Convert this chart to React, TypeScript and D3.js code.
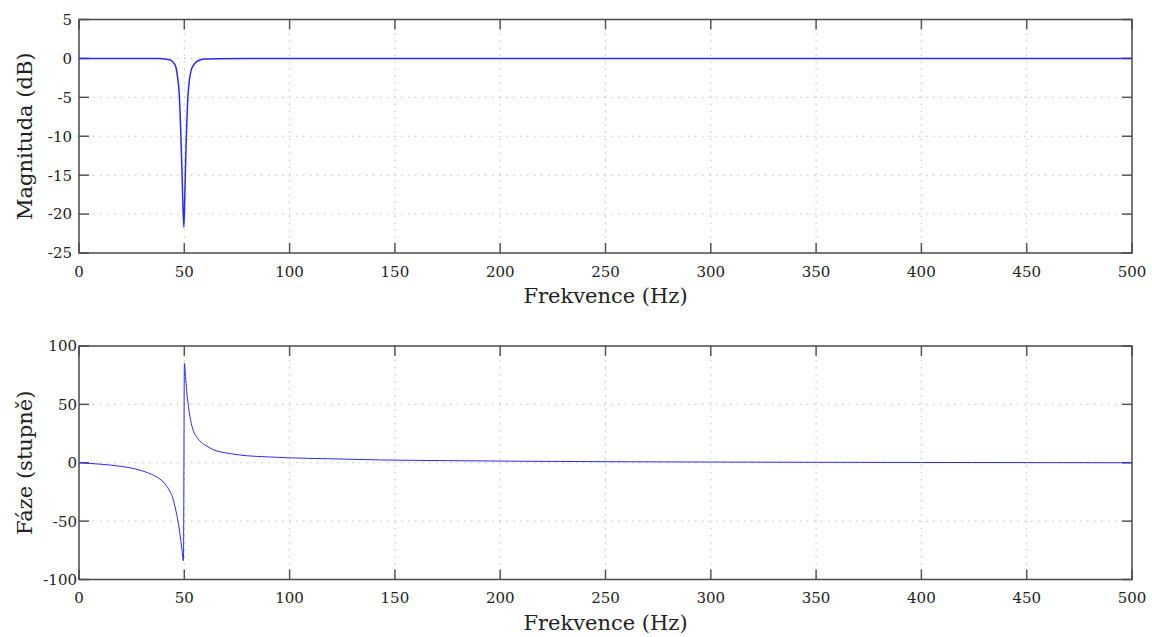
import * as d3 from "d3";
import { useRef, useEffect } from "react";

// frequency axis (Hz)
const freqTicks = [0, 50, 100, 150, 200, 250, 300, 350, 400, 450, 500];

// magnitude response (dB)
const magFreq = [0, 10, 20, 30, 38, 41, 43, 44, 45, 46, 46.8, 47.6, 48.2, 48.9, 49.3, 49.8, 50.3, 50.7, 51.1, 51.7, 52.4, 53.2, 54.3, 55.5, 57.5, 60, 65, 80, 100, 150, 200, 250, 300, 350, 400, 450, 500];
const magDb = [0, 0, 0, 0, -0.02, -0.08, -0.18, -0.3, -0.6, -1.1, -2.4, -4.6, -8.5, -14.5, -18.5, -21.7, -17, -12.5, -9, -5, -2.8, -1.6, -0.9, -0.5, -0.2, -0.08, -0.03, 0, 0, 0, 0, 0, 0, 0, 0, 0, 0];
const magTicks = [5, 0, -5, -10, -15, -20, -25];

// phase response (degrees)
const phaseFreq = [0, 5, 10, 15, 20, 25, 30, 33, 36, 39, 41, 43, 44.5, 46, 47, 48, 48.8, 49.6, 50.05, 50.6, 51.1, 52, 52.7, 54, 55.9, 58, 60.6, 64, 67, 72, 79.6, 90, 98.6, 119, 143, 175, 210, 250, 300, 350, 400, 450, 500];
const phaseDeg = [0, -0.6, -1.2, -2, -3.1, -4.6, -6.9, -8.8, -11.2, -14.8, -18.5, -24, -30, -41, -50, -62, -73, -84, 85, 74, 62, 48, 39.4, 29, 22, 17.5, 14.3, 11, 9.4, 7.8, 6, 5, 4.3, 3.4, 2.4, 1.8, 1.3, 0.9, 0.6, 0.4, 0.25, 0.12, 0];
const phaseTicks = [100, 50, 0, -50, -100];

const FONT = "'DejaVu Serif', serif";

const App = () => {
    const svgRef = useRef<SVGSVGElement>(null);

    useEffect(() => {
        const svg = d3.select(svgRef.current);
        svg.selectAll("*").remove();

        const left = 79, right = 1132;

        const panel = (top: number, bottom: number, xs: number[], ys: number[],
            yDomain: [number, number], yTicks: number[], yLabel: string,
            lineW: number, yLabelGap: number, xLabelGap: number) => {
            const x = d3.scaleLinear().domain([0, 500]).range([left, right]);
            const y = d3.scaleLinear().domain(yDomain).range([bottom, top]);
            const g = svg.append("g");

            // dotted grid
            g.selectAll(".vgrid")
                .data(freqTicks.slice(1, -1))
                .enter()
                .append("line")
                .attr("x1", d => x(d)).attr("x2", d => x(d))
                .attr("y1", top).attr("y2", bottom)
                .attr("stroke", "#bdbdbd")
                .attr("stroke-width", 1)
                .attr("stroke-dasharray", "1.5,5.5");
            g.selectAll(".hgrid")
                .data(yTicks.slice(1, -1))
                .enter()
                .append("line")
                .attr("x1", left).attr("x2", right)
                .attr("y1", d => y(d)).attr("y2", d => y(d))
                .attr("stroke", "#bdbdbd")
                .attr("stroke-width", 1)
                .attr("stroke-dasharray", "1.5,5.5");

            // inward ticks on all four sides
            const tk = 10;
            freqTicks.forEach(t => {
                g.append("line").attr("x1", x(t)).attr("x2", x(t)).attr("y1", bottom).attr("y2", bottom - tk)
                    .attr("stroke", "#555").attr("stroke-width", 1.5);
                g.append("line").attr("x1", x(t)).attr("x2", x(t)).attr("y1", top).attr("y2", top + tk)
                    .attr("stroke", "#555").attr("stroke-width", 1.5);
            });
            yTicks.forEach(t => {
                g.append("line").attr("x1", left).attr("x2", left + tk).attr("y1", y(t)).attr("y2", y(t))
                    .attr("stroke", "#555").attr("stroke-width", 1.5);
                g.append("line").attr("x1", right).attr("x2", right - tk).attr("y1", y(t)).attr("y2", y(t))
                    .attr("stroke", "#555").attr("stroke-width", 1.5);
            });

            // data line
            const line = d3.line<number>()
                .x((d, i) => x(xs[i]))
                .y(d => y(d))
                .curve(d3.curveMonotoneX);
            g.append("path")
                .datum(ys)
                .attr("fill", "none")
                .attr("stroke", "#2a2aff")
                .attr("stroke-width", lineW)
                .attr("d", line);

            // frame
            g.append("rect")
                .attr("x", left).attr("y", top)
                .attr("width", right - left).attr("height", bottom - top)
                .attr("fill", "none")
                .attr("stroke", "#4a4a4a")
                .attr("stroke-width", 1.5);

            // tick labels
            g.selectAll(".xl")
                .data(freqTicks)
                .enter()
                .append("text")
                .attr("x", d => x(d))
                .attr("y", bottom + xLabelGap)
                .attr("text-anchor", "middle")
                .attr("font-family", FONT)
                .attr("font-size", "15px")
                .attr("fill", "#222")
                .text(d => d);
            g.selectAll(".yl")
                .data(yTicks)
                .enter()
                .append("text")
                .attr("x", left - yLabelGap)
                .attr("y", d => y(d))
                .attr("dy", "0.36em")
                .attr("text-anchor", "end")
                .attr("font-family", FONT)
                .attr("font-size", "15px")
                .attr("fill", "#222")
                .text(d => d);

            // axis titles
            g.append("text")
                .attr("x", (left + right) / 2)
                .attr("y", bottom + 50)
                .attr("text-anchor", "middle")
                .attr("font-family", FONT)
                .attr("font-size", "21px")
                .attr("fill", "#222")
                .text("Frekvence (Hz)");
            g.append("text")
                .attr("transform", `translate(32, ${(top + bottom) / 2}) rotate(-90)`)
                .attr("text-anchor", "middle")
                .attr("font-family", FONT)
                .attr("font-size", "21px")
                .attr("fill", "#222")
                .text(yLabel);
        };

        panel(19.5, 253, magFreq, magDb, [-25, 5], magTicks, "Magnituda (dB)", 1.5, 7, 24);
        panel(346, 579.5, phaseFreq, phaseDeg, [-100, 100], phaseTicks, "Fáze (stupně)", 1, 2, 23);
    }, []);

    return (
        <svg ref={svgRef} width={1152} height={637}
            style={{ position: "absolute", left: 0, top: 0, background: "#fff" }} />
    );
};

export default App;
